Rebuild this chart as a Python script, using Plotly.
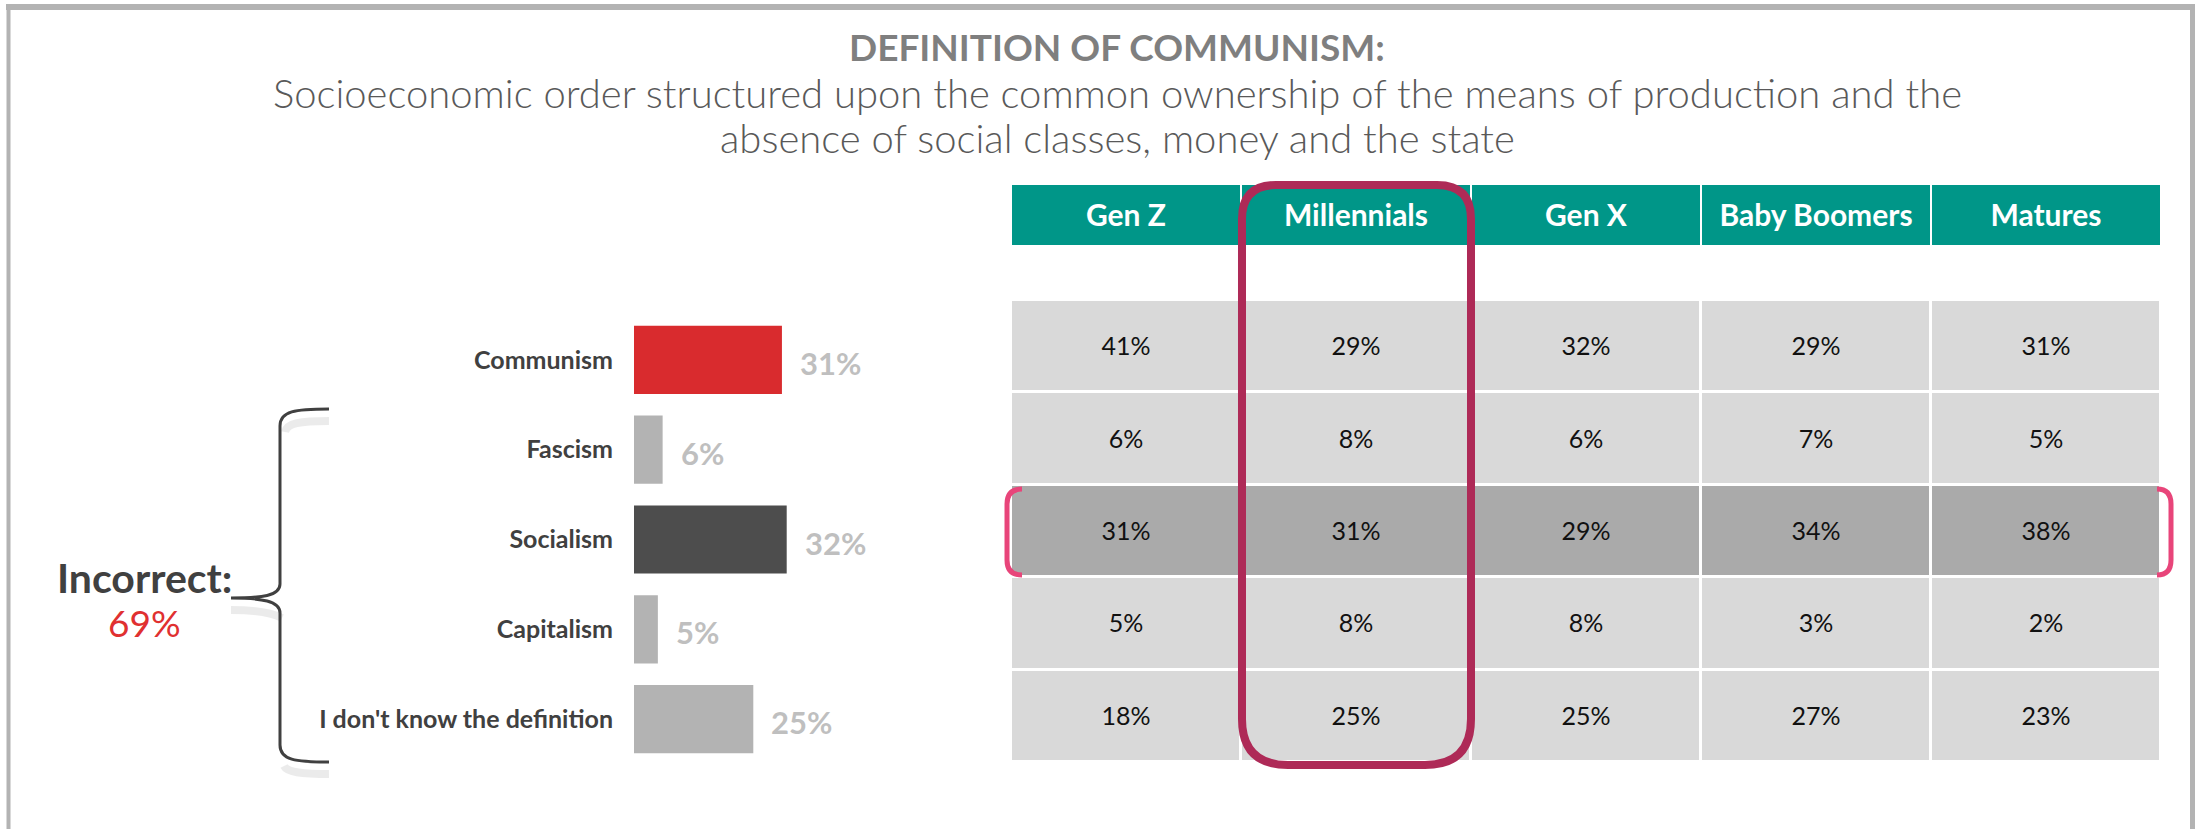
import plotly.graph_objects as go

# ---------------- data ----------------
categories = ["Communism", "Fascism", "Socialism", "Capitalism", "I don't know the definition"]
overall = [31, 6, 32, 5, 25]

generations = ["Gen Z", "Millennials", "Gen X", "Baby Boomers", "Matures"]
gen_z = [41, 6, 31, 5, 18]
millennials = [29, 8, 31, 8, 25]
gen_x = [32, 6, 29, 8, 25]
baby_boomers = [29, 7, 34, 3, 27]
matures = [31, 5, 38, 2, 23]

highlight_category = "Socialism"
incorrect_total = 69

title = "DEFINITION OF COMMUNISM:"
subtitle_lines = ["Socioeconomic order structured upon the common ownership of the means of production and the",
                  "absence of social classes, money and the state"]

# ---------------- styles ----------------
W, H = 2199, 829
bar_colors = ["#d92b2e", "#b3b3b3", "#4d4d4d", "#b3b3b3", "#b3b3b3"]
TEAL = "#009688"
FONT = "Lato"


def X(px):
    return px / W


def Y(py):
    return 1 - py / H


def P(x, y):
    return f"{X(x):.5f},{Y(y):.5f}"


fig = go.Figure()

# ---------------- bar chart ----------------
fig.add_trace(go.Bar(
    x=overall, y=categories, orientation="h",
    marker=dict(color=bar_colors, line=dict(width=0)),
    width=0.76, hoverinfo="skip", xaxis="x", yaxis="y",
))
for cat, v in zip(categories, overall):
    fig.add_annotation(x=v, y=cat, xref="x", yref="y", text=f"<b>{v}%</b>",
                       showarrow=False, xanchor="left", yanchor="middle", xshift=16, yshift=-3,
                       font=dict(family=FONT, size=31, color="#bfbfbf"))

# ---------------- table (heatmap cells) ----------------
cols = [gen_z, millennials, gen_x, baby_boomers, matures]
z = [[1 if c == highlight_category else 0 for _ in generations] for c in categories]
txt = [[f"{cols[j][i]}%" for j in range(len(generations))] for i in range(len(categories))]
fig.add_trace(go.Heatmap(
    x=generations, y=categories, z=z, text=txt, texttemplate="%{text}",
    textfont=dict(family=FONT, size=25, color="#111111", weight=400),
    colorscale=[[0, "#d9d9d9"], [1, "#aaaaaa"]], zmin=0, zmax=1, showscale=False,
    xgap=3, ygap=3, hoverinfo="skip", xaxis="x2", yaxis="y2",
))
fig.add_trace(go.Heatmap(
    x=generations, y=["header"], z=[[0] * len(generations)], text=[generations],
    texttemplate="%{text}",
    textfont=dict(family=FONT, size=30, color="white", weight="bold"),
    colorscale=[[0, TEAL], [1, TEAL]], showscale=False,
    xgap=2, ygap=0, hoverinfo="skip", xaxis="x2", yaxis="y3",
))

# ---------------- axes ----------------
fig.update_layout(
    xaxis=dict(domain=[X(634), X(1000)], range=[0, 76.7], visible=False, anchor="y"),
    yaxis=dict(domain=[Y(764), Y(315)], categoryorder="array", categoryarray=categories,
               autorange="reversed", showgrid=False, zeroline=False, showline=False, ticks="",
               ticklabelstandoff=20, anchor="x",
               tickfont=dict(family=FONT, size=25, color="#404040", weight="bold")),
    xaxis2=dict(domain=[X(1011), X(2161)], visible=False, anchor="y2",
                categoryorder="array", categoryarray=generations),
    yaxis2=dict(domain=[Y(762), Y(300)], visible=False, anchor="x2",
                categoryorder="array", categoryarray=categories, autorange="reversed"),
    yaxis3=dict(domain=[Y(245), Y(185)], visible=False, anchor="x2"),
)

# ---------------- decorations ----------------
shapes = []
# frame
shapes.append(dict(type="line", xref="paper", yref="paper", x0=X(6), x1=X(2195), y0=Y(7), y1=Y(7),
                   line=dict(color="#b3b3b3", width=6)))
shapes.append(dict(type="line", xref="paper", yref="paper", x0=X(8.5), x1=X(8.5), y0=Y(4), y1=Y(829),
                   line=dict(color="#b3b3b3", width=4)))
shapes.append(dict(type="line", xref="paper", yref="paper", x0=X(2192.5), x1=X(2192.5), y0=Y(4), y1=Y(829),
                   line=dict(color="#b3b3b3", width=5)))

# Millennials outline
x0, x1, y0, y1, rt, rb = 1242, 1471, 185, 765, 34, 46
mill_path = (f"M{P(x0, y0 + rt)} Q{P(x0, y0)} {P(x0 + rt, y0)} L{P(x1 - rt, y0)} Q{P(x1, y0)} {P(x1, y0 + rt)} "
             f"L{P(x1, y1 - rb)} Q{P(x1, y1)} {P(x1 - rb, y1)} L{P(x0 + rb, y1)} Q{P(x0, y1)} {P(x0, y1 - rb)} Z")
shapes.append(dict(type="path", xref="paper", yref="paper", path=mill_path,
                   line=dict(color="#ae2a57", width=8), layer="above"))

# Socialism row brackets
pk = "#e8457a"
lp = f"M{P(1022, 489)} Q{P(1007, 489)} {P(1007, 504)} L{P(1007, 560)} Q{P(1007, 575)} {P(1022, 575)}"
rp = f"M{P(2157, 489)} Q{P(2171, 489)} {P(2171, 504)} L{P(2171, 560)} Q{P(2171, 575)} {P(2157, 575)}"
for pth in (lp, rp):
    shapes.append(dict(type="path", xref="paper", yref="paper", path=pth,
                       line=dict(color=pk, width=5), layer="above"))

# curly brace with soft shadow on its horizontal ends
def brace(dx, dy):
    def q(x, y):
        return P(x + dx, y + dy)
    return (f"M{q(329, 409)} C{q(295, 409)} {q(280, 411)} {q(280, 426)} L{q(280, 584)} "
            f"C{q(280, 596)} {q(262, 598)} {q(231, 598)} C{q(262, 598)} {q(280, 601)} {q(280, 613)} "
            f"L{q(280, 745)} C{q(280, 760)} {q(295, 762)} {q(329, 762)}")

for sp in (f"M{P(329, 421)} C{P(300, 421)} {P(287, 423)} {P(285, 432)}",
           f"M{P(231, 610)} C{P(255, 610)} {P(270, 612)} {P(282, 618)}",
           f"M{P(329, 774)} C{P(300, 774)} {P(287, 772)} {P(284, 766)}"):
    shapes.append(dict(type="path", xref="paper", yref="paper", path=sp,
                       line=dict(color="rgba(0,0,0,0.08)", width=8)))
shapes.append(dict(type="path", xref="paper", yref="paper", path=brace(0, 0),
                   line=dict(color="#404040", width=3)))

fig.update_layout(shapes=shapes)

# ---------------- text ----------------
fig.add_annotation(x=X(1117), y=Y(46), xref="paper", yref="paper", text=f"<b>{title}</b>",
                   showarrow=False, xanchor="center", yanchor="middle",
                   font=dict(family=FONT, size=37, color="#7f7f7f"))
for i, line in enumerate(subtitle_lines):
    fig.add_annotation(x=X(1117), y=Y(93 + 45 * i), xref="paper", yref="paper", text=line,
                       showarrow=False, xanchor="center", yanchor="middle",
                       font=dict(family=FONT, size=40, color="#595959", weight=300))
fig.add_annotation(x=X(144), y=Y(577), xref="paper", yref="paper", text="<b>Incorrect:</b>",
                   showarrow=False, xanchor="center", yanchor="middle",
                   font=dict(family=FONT, size=41, color="#404040"))
fig.add_annotation(x=X(144), y=Y(622), xref="paper", yref="paper", text=f"{incorrect_total}%",
                   showarrow=False, xanchor="center", yanchor="middle",
                   font=dict(family=FONT, size=37, color="#e03030"))

fig.update_layout(width=W, height=H, margin=dict(l=0, r=0, t=0, b=0),
                  paper_bgcolor="white", plot_bgcolor="white", showlegend=False)

fig.write_html("out.html", config={"displayModeBar": False},
               post_script="document.body.style.margin='0';")
